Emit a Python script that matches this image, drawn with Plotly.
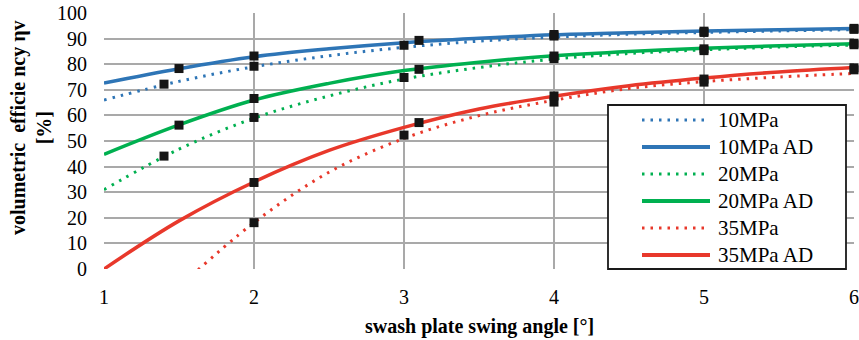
import plotly.graph_objects as go

# ---- data ----
x_fit = [1, 1.5, 2, 2.5, 3, 3.5, 4, 4.5, 5, 5.5, 6]
fit_10 = [66.0, 73.3, 79.0, 83.3, 86.6, 89.0, 90.6, 91.7, 92.4, 93.0, 93.5]
fit_10ad = [72.6, 78.2, 82.9, 86.0, 88.4, 90.1, 91.5, 92.3, 93.0, 93.5, 93.9]
fit_20 = [31.0, 46.8, 58.9, 67.6, 74.2, 78.7, 82.0, 84.2, 85.6, 86.7, 87.5]
fit_20ad = [44.8, 56.3, 66.0, 72.5, 77.5, 80.8, 83.3, 85.0, 86.2, 87.2, 88.0]
fit_35 = [None, -7.0, 18.1, 37.8, 51.0, 59.9, 65.9, 70.5, 73.2, 75.0, 76.4]
fit_35ad = [0.0, 18.8, 34.0, 46.3, 55.3, 62.5, 67.5, 71.6, 74.6, 77.0, 78.7]

pts_x_meas = [1.4, 2, 3, 4, 5, 6]
pts_x_ad = [1.5, 2, 3.1, 4, 5, 6]
pts_10 = [72.2, 79.2, 87.4, 91.0, 92.4, 93.6]
pts_10ad = [78.3, 83.2, 89.3, 91.6, 92.9, 94.0]
pts_20 = [44.1, 59.2, 74.8, 82.2, 85.3, 87.6]
pts_20ad = [56.2, 66.6, 78.0, 83.2, 86.0, 88.2]
pts_x_35 = [2, 3, 4, 5, 6]
pts_x_35ad = [2, 3.1, 4, 5, 6]
pts_35 = [18.1, 52.3, 65.2, 73.0, 77.8]
pts_35ad = [33.8, 57.2, 67.6, 74.2, 78.6]

series_names = ["10MPa", "10MPa AD", "20MPa", "20MPa AD", "35MPa", "35MPa AD"]
x_ticks = [1, 2, 3, 4, 5, 6]
y_ticks = [0, 10, 20, 30, 40, 50, 60, 70, 80, 90, 100]

BLUE = "#2e75b6"
GREEN = "#00b050"
RED = "#e8382b"
DOT = "2.5px,6px"
FONT = "Liberation Serif"

styles = [
    (BLUE, DOT), (BLUE, None),
    (GREEN, DOT), (GREEN, None),
    (RED, DOT), (RED, None),
]
fits = [fit_10, fit_10ad, fit_20, fit_20ad, fit_35, fit_35ad]

fig = go.Figure()
for name, ys, (col, dash) in zip(series_names, fits, styles):
    line = dict(color=col, width=3 if dash else 3.5, shape="spline", smoothing=1.0)
    if dash:
        line["dash"] = dash
    fig.add_trace(go.Scatter(x=x_fit, y=ys, mode="lines", name=name, line=line,
                             showlegend=False))

for xs, ys in [(pts_x_meas, pts_10), (pts_x_ad, pts_10ad), (pts_x_meas, pts_20),
               (pts_x_ad, pts_20ad), (pts_x_35, pts_35), (pts_x_35ad, pts_35ad)]:
    fig.add_trace(go.Scatter(x=xs, y=ys, mode="markers", showlegend=False,
                             marker=dict(symbol="square", size=9, color="#151515"),
                             cliponaxis=False))

# ---- plot area geometry (pixels) ----
W, H = 859, 340
L, R, T, B = 104, 5, 13, 71
pw, ph = W - L - R, H - T - B


def px(xp):
    return (xp - L) / pw


def py(yp):
    return (H - B - yp) / ph


# ---- manual legend ----
shapes = [dict(type="rect", xref="paper", yref="paper", x0=px(608), x1=px(846),
               y0=py(269), y1=py(105), line=dict(color="#1a1a1a", width=1.8),
               fillcolor="white", layer="above")]
annotations = []
for i, (name, (col, dash)) in enumerate(zip(series_names, styles)):
    yy = 120 + 27 * i
    ln = dict(color=col, width=3 if dash else 4)
    if dash:
        ln["dash"] = DOT
    shapes.append(dict(type="line", xref="paper", yref="paper", x0=px(642), x1=px(710),
                       y0=py(yy), y1=py(yy), line=ln, layer="above"))
    annotations.append(dict(xref="paper", yref="paper", x=px(716), y=py(yy), text=name,
                            showarrow=False, xanchor="left", yanchor="middle",
                            font=dict(family=FONT, size=21, color="black")))

annotations.append(dict(xref="paper", yref="paper", x=px(31), y=py(128),
                        text="<b>volumetric\u00a0 efficie ncy ηv</b><br><b>[%]</b>",
                        textangle=-90, showarrow=False, xanchor="center", yanchor="middle",
                        font=dict(family=FONT, size=20, color="black")))
annotations.append(dict(xref="paper", yref="paper", x=px(479), y=py(326),
                        text="<b>swash plate swing angle [°]</b>",
                        showarrow=False, xanchor="center", yanchor="middle",
                        font=dict(family=FONT, size=20, color="black")))

GRID = "#a9a9a9"
fig.update_layout(
    width=W, height=H,
    margin=dict(l=L, r=R, t=T, b=B, pad=0, autoexpand=False),
    paper_bgcolor="white", plot_bgcolor="white",
    shapes=shapes, annotations=annotations,
    showlegend=False,
    xaxis=dict(range=[1, 6], tickvals=x_ticks, ticktext=[str(v) for v in x_ticks],
               showgrid=True, gridcolor=GRID, gridwidth=1.5, zeroline=False,
               showline=False, ticks="", ticklabelstandoff=14, automargin=False,
               tickfont=dict(family=FONT, size=20, color="black")),
    yaxis=dict(range=[0, 100], tickvals=y_ticks, ticktext=[str(v) for v in y_ticks],
               showgrid=True, gridcolor=GRID, gridwidth=1.5, zeroline=False,
               showline=False, ticks="", ticklabelstandoff=16, automargin=False,
               tickfont=dict(family=FONT, size=20, color="black")),
)

fig.write_html("out.html")
